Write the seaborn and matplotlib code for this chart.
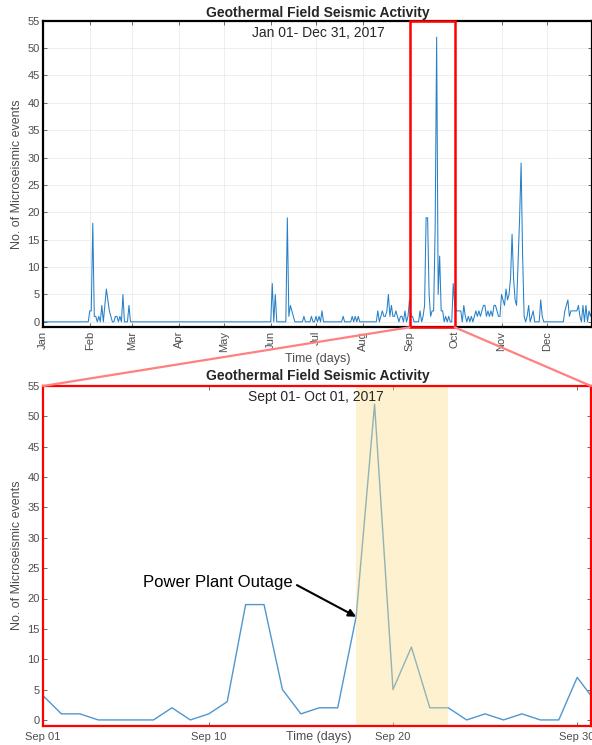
import pandas as pd
import numpy as np
import matplotlib
matplotlib.use('Agg')
import matplotlib.pyplot as plt
import matplotlib.dates as mdates
from matplotlib.patches import Rectangle, ConnectionPatch
import seaborn as sns

## DATA (daily microseismic event counts, 2017)
jan = [0, 0, 0, 0, 0, 0, 0, 0, 0, 0, 0, 0, 0, 0, 0, 0, 0, 0, 0, 0, 0, 0, 0, 0, 0, 0, 0, 0, 0, 0, 0]
feb = [2, 2, 18, 1, 1, 0, 1, 0, 3, 0, 3, 6, 4, 2, 1, 0, 0, 1, 1, 0, 1, 0, 5, 0, 0, 0, 3, 0]
mar = [0, 0, 0, 0, 0, 0, 0, 0, 0, 0, 0, 0, 0, 0, 0, 0, 0, 0, 0, 0, 0, 0, 0, 0, 0, 0, 0, 0, 0, 0, 0]
apr = [0, 0, 0, 0, 0, 0, 0, 0, 0, 0, 0, 0, 0, 0, 0, 0, 0, 0, 0, 0, 0, 0, 0, 0, 0, 0, 0, 0, 0, 0]
may = [0, 0, 0, 0, 0, 0, 0, 0, 0, 0, 0, 0, 0, 0, 0, 0, 0, 0, 0, 0, 0, 0, 0, 0, 0, 0, 0, 0, 0, 0, 0]
jun = [0, 7, 0, 5, 0, 0, 0, 0, 0, 0, 0, 19, 1, 3, 2, 1, 0, 0, 0, 0, 0, 0, 1, 0, 0, 0, 0, 1, 0, 0]
jul = [1, 0, 1, 0, 2, 0, 0, 0, 0, 0, 0, 0, 0, 0, 0, 0, 0, 0, 1, 0, 0, 0, 0, 0, 1, 0, 1, 0, 1, 0, 0]
aug = [0, 0, 0, 0, 0, 0, 0, 0, 0, 0, 2, 0, 1, 2, 1, 1, 2, 5, 1, 3, 1, 1, 2, 1, 0, 1, 1, 0, 2, 0, 1]
sep = [4, 1, 1, 0, 0, 0, 0, 2, 0, 1, 3, 19, 19, 5, 1, 2, 2, 17, 52, 5, 12, 2, 2, 0, 1, 0, 1, 0, 0, 7]
oct_ = [3, 2, 2, 2, 2, 0, 3, 1, 0, 1, 0, 1, 0, 1, 2, 1, 2, 1, 2, 3, 3, 1, 2, 1, 2, 1, 3, 3, 2, 1, 1]
nov = [5, 4, 3, 6, 4, 5, 8, 16, 8, 4, 3, 11, 19, 29, 12, 1, 0, 1, 3, 0, 1, 2, 0, 0, 0, 0, 4, 1, 0, 0]
dec = [0, 0, 0, 0, 0, 0, 0, 0, 0, 0, 0, 0, 2, 3, 4, 1, 2, 2, 2, 2, 2, 3, 1, 0, 3, 0, 3, 0, 2, 1, 2]

zoom_start = '2017-09-01'
zoom_end = '2017-10-01'
outage_start = '2017-09-18'
outage_end = '2017-09-23'
outage_point = ('2017-09-18', 17)
zoom_ticks = ['2017-09-01', '2017-09-10', '2017-09-20', '2017-09-30']

counts = jan + feb + mar + apr + may + jun + jul + aug + sep + oct_ + nov + dec
days = pd.date_range('2017-01-01', '2017-12-31', freq='D')
df = pd.DataFrame({'date': days, 'events': counts})
df_zoom = df[(df['date'] >= zoom_start) & (df['date'] <= zoom_end)]

## STYLE
sns.set_style('ticks')
plt.rcParams['font.family'] = ['Liberation Sans', 'DejaVu Sans']
tick_col = '#4d4d4d'

fig = plt.figure(figsize=(5.92, 7.45), dpi=100)
ax1 = fig.add_axes([43/592, 1 - 327.3/745, 549/592, 306.6/745])
ax2 = fig.add_axes([43/592, 1 - 726/745, 548/592, 340/745])

## TOP: whole year
sns.lineplot(data=df, x='date', y='events', ax=ax1, color='#2680C8',
             linewidth=0.75, estimator=None)
ax1.set_xlim(pd.Timestamp('2017-01-01'), pd.Timestamp('2017-12-31'))
ax1.set_ylim(-1, 55)
ax1.set_yticks(range(0, 56, 5))
ax1.xaxis.set_major_locator(mdates.MonthLocator())
ax1.xaxis.set_major_formatter(mdates.DateFormatter('%b'))
ax1.grid(True, color='#ebebeb', linewidth=0.6)
ax1.tick_params(axis='x', rotation=90)
for sp in ax1.spines.values():
    sp.set_color('black')
    sp.set_linewidth(1.6)

## BOTTOM: September zoom
sns.lineplot(data=df_zoom, x='date', y='events', ax=ax2, color='#4F97D0',
             linewidth=1.0, estimator=None)
ax2.axvspan(pd.Timestamp(outage_start), pd.Timestamp(outage_end),
            color='#FADE87', alpha=0.4, linewidth=0, zorder=2.2)
ax2.set_xlim(pd.Timestamp(zoom_start), pd.Timestamp('2017-09-30 18:00'))
ax2.set_ylim(-1, 55)
ax2.set_yticks(range(0, 56, 5))
ax2.set_xticks([pd.Timestamp(t) for t in zoom_ticks])
ax2.xaxis.set_major_formatter(mdates.DateFormatter('%b %d'))
for sp in ax2.spines.values():
    sp.set_color('red')
    sp.set_linewidth(1.6)

ax2.annotate('Power Plant Outage',
             xy=(mdates.date2num(pd.Timestamp(outage_point[0])), outage_point[1]),
             xytext=(mdates.date2num(pd.Timestamp('2017-09-14 13:00')), 22.6),
             ha='right', va='center', fontsize=12, color='black',
             arrowprops=dict(arrowstyle='-|>', color='black', lw=1.5,
                             relpos=(1, 0.5), shrinkA=1, shrinkB=0,
                             mutation_scale=11))

for ax in [ax1, ax2]:
    ax.tick_params(direction='in', top=True, right=True, labelsize=8,
                   labelcolor=tick_col, length=3, width=0.6, color='#555555', pad=2.5)
    ax.set_ylabel('No. of Microseismic events', fontsize=9, color=tick_col)
    ax.set_xlabel('Time (days)', fontsize=9, color=tick_col)

ax1.xaxis.set_label_coords(0.5, -0.085)
ax1.yaxis.set_label_coords(-0.036, 0.5)
ax2.xaxis.set_label_coords(0.504, -0.015)
ax2.yaxis.set_label_coords(-0.036, 0.503)
ax2.tick_params(axis='x', pad=4)

## red box + connectors
x0 = mdates.date2num(pd.Timestamp(zoom_start))
x1 = mdates.date2num(pd.Timestamp(zoom_end))
ax1.add_patch(Rectangle((x0, -1), x1 - x0, 56, fill=False, edgecolor='red',
                        linewidth=1.8, clip_on=False, zorder=5))
for xa, xb in [(x0, 0), (x1, 1)]:
    con = ConnectionPatch(xyA=(xa, -1), coordsA=ax1.transData,
                          xyB=(xb, 1), coordsB=ax2.transAxes,
                          color='#ff8080', linewidth=1.6, zorder=1)
    fig.add_artist(con)

## titles
fig.text(318/592, 1 - 13/745, 'Geothermal Field Seismic Activity', ha='center',
         va='center', fontsize=10, fontweight='bold')
fig.text(318/592, 1 - 33/745, 'Jan 01- Dec 31, 2017', ha='center', va='center', fontsize=10)
fig.text(318/592, 1 - 376/745, 'Geothermal Field Seismic Activity', ha='center',
         va='center', fontsize=10, fontweight='bold')
fig.text(316/592, 1 - 397.5/745, 'Sept 01- Oct 01, 2017', ha='center', va='center', fontsize=10)

fig.savefig('out.png', dpi=100)
